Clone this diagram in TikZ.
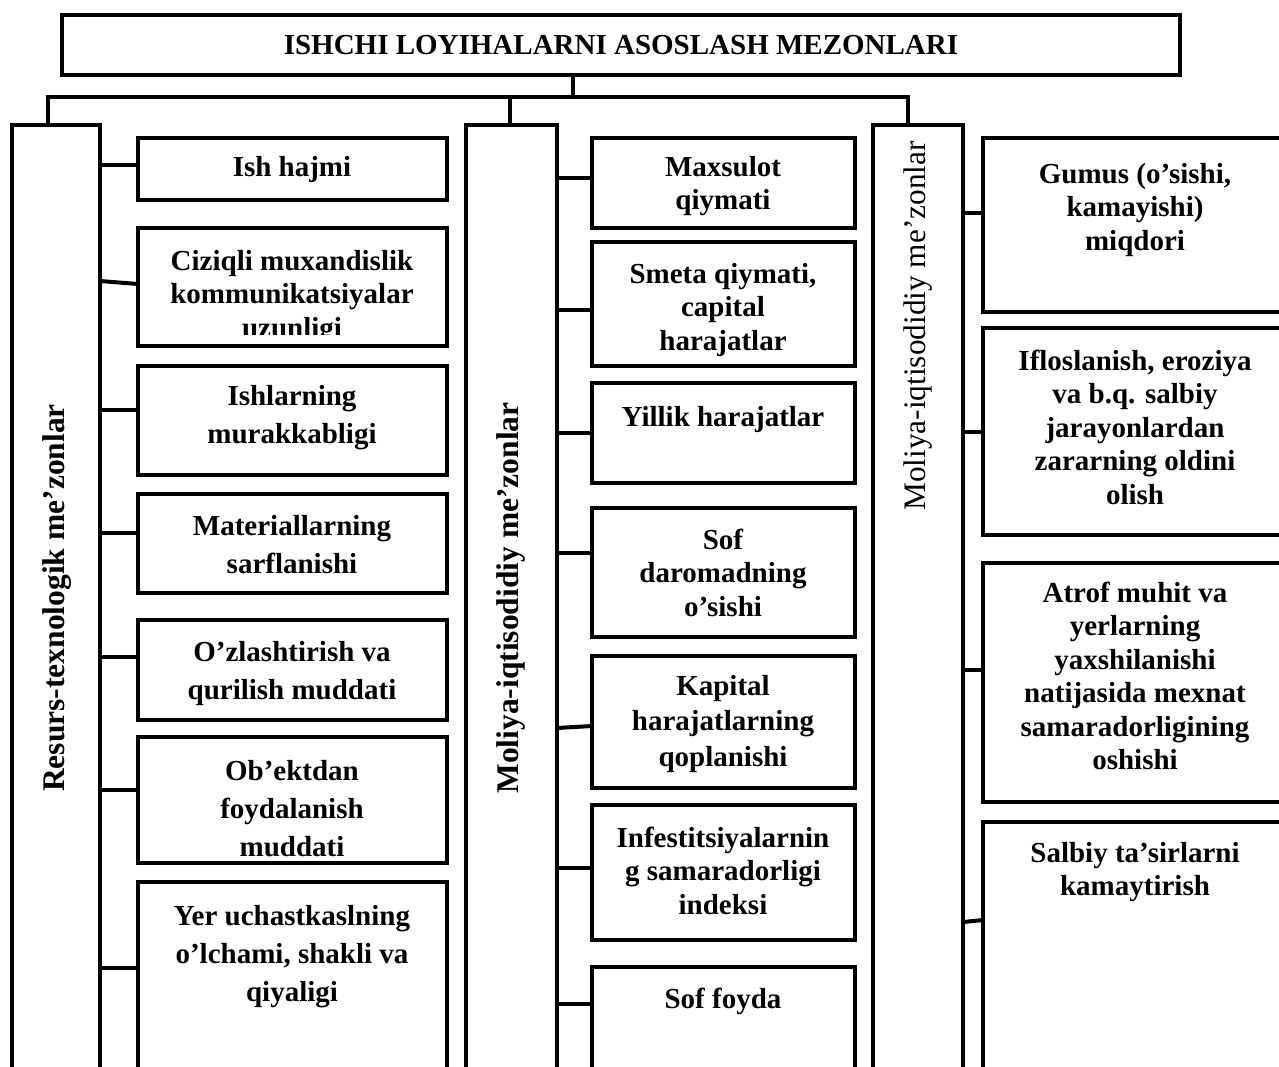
\documentclass[tikz,border=0pt]{standalone}
\usepackage{fontspec}
\setmainfont{Liberation Serif}
\begin{document}
\begin{tikzpicture}[x=1pt,y=-1pt,
  ln/.style={line width=4pt},
  frame/.style={draw, line width=4pt, rectangle, inner sep=0pt, outer sep=0pt, anchor=north west},
  lt/.style={font=\bfseries\fontsize{29}{38}\selectfont, align=center, anchor=north, inner sep=0pt, yshift=26.6pt},
  mt/.style={font=\bfseries\fontsize{29}{33.5}\selectfont, align=center, anchor=north, inner sep=0pt, yshift=23.45pt},
  kt/.style={font=\bfseries\fontsize{29}{35.5}\selectfont, align=center, anchor=north, inner sep=0pt, yshift=24.85pt}]
\fill[white] (0,0) rectangle (1279,1066);
\clip (0,0) rectangle (1279,1066);

% title
\node[frame, minimum width=1118pt, minimum height=60pt, font=\bfseries\fontsize{29}{34}\selectfont] (title) at (62,15) {ISHCHI LOYIHALARNI ASOSLASH MEZONLARI};

% column boxes
\node[frame, minimum width=88pt, minimum height=1000pt] (L) at (12,125) {};
\node[frame, minimum width=91pt, minimum height=1000pt] (M) at (466,125) {};
\node[frame, minimum width=90pt, minimum height=1000pt] (R) at (873,125) {};

\node[rotate=90, font=\bfseries\fontsize{31.5}{36}\selectfont] (Ltxt) at (57,598) {Resurs-texnologik me’zonlar};
\node[rotate=90, font=\bfseries\fontsize{31.5}{36}\selectfont] (Mtxt) at (511,598) {Moliya-iqtisodidiy me’zonlar};
\node[rotate=90, font=\fontsize{31.3}{36}\selectfont] (Rtxt) at (918,326) {Moliya-iqtisodidiy me’zonlar};

% tree connectors
\coordinate (stem) at (573,97);
\coordinate (dL) at (48,97);
\coordinate (dM) at (510,97);
\coordinate (dR) at (908,97);
\draw[ln] (title.south -| stem) -- (stem);
\draw[ln] (dL |- L.north) -- (dL) -- (dR) -- (dR |- R.north);
\draw[ln] (dM) -- (dM |- M.north);

% left boxes
\node[frame, minimum width=309pt, minimum height=62pt] (l1) at (138,138) {};
\node[frame, minimum width=309pt, minimum height=118pt] (l2) at (138,228) {};
\node[frame, minimum width=309pt, minimum height=109pt] (l3) at (138,366) {};
\node[frame, minimum width=309pt, minimum height=99pt] (l4) at (138,494) {};
\node[frame, minimum width=309pt, minimum height=100pt] (l5) at (138,620) {};
\node[frame, minimum width=309pt, minimum height=126pt] (l6) at (138,737) {};
\node[frame, minimum width=309pt, minimum height=250pt] (l7) at (138,882) {};

\node[lt] (t1) at (292,176) {\strut Ish hajmi};
\begin{scope}
\clip (140,230) rectangle (445,334);
\node[mt] (t2) at (292,270) {\strut Ciziqli muxandislik\\kommunikatsiyalar\\uzunligi};
\end{scope}
\node[lt] (t3) at (292,405) {\strut Ishlarning\\murakkabligi};
\node[lt] (t4) at (292,535) {\strut Materiallarning\\sarflanishi};
\node[lt] (t5) at (292,661) {\strut O’zlashtirish va\\qurilish muddati};
\node[lt] (t6) at (292,780) {\strut Ob’ektdan\\foydalanish\\muddati};
\node[lt] (t7) at (292,925) {\strut Yer uchastkaslning\\o’lchami, shakli va\\qiyaligi};

\draw[ln] (L.east |- 0,165) -- (l1.west |- 0,165);
\draw[ln] (L.east |- 0,281) -- (l2.west |- 0,284);
\draw[ln] (L.east |- 0,410) -- (l3.west |- 0,410);
\draw[ln] (L.east |- 0,533) -- (l4.west |- 0,533);
\draw[ln] (L.east |- 0,657) -- (l5.west |- 0,657);
\draw[ln] (L.east |- 0,790) -- (l6.west |- 0,790);
\draw[ln] (L.east |- 0,968) -- (l7.west |- 0,968);

% middle boxes
\node[frame, minimum width=263pt, minimum height=90pt] (m1) at (592,138) {};
\node[frame, minimum width=263pt, minimum height=124pt] (m2) at (592,242) {};
\node[frame, minimum width=263pt, minimum height=100pt] (m3) at (592,383) {};
\node[frame, minimum width=263pt, minimum height=129pt] (m4) at (592,508) {};
\node[frame, minimum width=263pt, minimum height=132pt] (m5) at (592,656) {};
\node[frame, minimum width=263pt, minimum height=135pt] (m6) at (592,805) {};
\node[frame, minimum width=263pt, minimum height=200pt] (m7) at (592,967) {};

\node[mt] (u1) at (723,176) {\strut Maxsulot\\qiymati};
\node[mt] (u2) at (723,283) {\strut Smeta qiymati,\\capital\\harajatlar};
\node[mt] (u3) at (723,426) {\strut Yillik harajatlar};
\node[mt] (u4) at (723,549) {\strut Sof\\daromadning\\o’sishi};
\node[kt] (u5) at (723,695) {\strut Kapital\\harajatlarning\\qoplanishi};
\node[mt] (u6) at (723,847) {\strut Infestitsiyalarnin\\g samaradorligi\\indeksi};
\node[mt] (u7) at (723,1008) {\strut Sof foyda};

\draw[ln] (M.east |- 0,178) -- (m1.west |- 0,178);
\draw[ln] (M.east |- 0,310) -- (m2.west |- 0,310);
\draw[ln] (M.east |- 0,433) -- (m3.west |- 0,433);
\draw[ln] (M.east |- 0,553) -- (m4.west |- 0,553);
\draw[ln] (M.east |- 0,728) -- (m5.west |- 0,726);
\draw[ln] (M.east |- 0,868) -- (m6.west |- 0,868);
\draw[ln] (M.east |- 0,1004) -- (m7.west |- 0,1004);

% right boxes
\node[frame, minimum width=400pt, minimum height=174pt] (r1) at (983,138) {};
\node[frame, minimum width=400pt, minimum height=207pt] (r2) at (983,328) {};
\node[frame, minimum width=400pt, minimum height=239pt] (r3) at (983,563) {};
\node[frame, minimum width=400pt, minimum height=300pt] (r4) at (983,822) {};

\node[mt] (v1) at (1135,183) {\strut Gumus (o’sishi,\\kamayishi)\\miqdori};
\node[mt] (v2) at (1135,370) {\strut Ifloslanish, eroziya\\va b.q. salbiy\\jarayonlardan\\zararning oldini\\olish};
\node[mt] (v3) at (1135,602) {\strut Atrof muhit va\\yerlarning\\yaxshilanishi\\natijasida mexnat\\samaradorligining\\oshishi};
\node[mt] (v4) at (1135,862) {\strut Salbiy ta’sirlarni\\kamaytirish};

\draw[ln] (R.east |- 0,213) -- (r1.west |- 0,213);
\draw[ln] (R.east |- 0,432) -- (r2.west |- 0,432);
\draw[ln] (R.east |- 0,670) -- (r3.west |- 0,670);
\draw[ln] (R.east |- 0,922) -- (r4.west |- 0,920);
\end{tikzpicture}
\end{document}
